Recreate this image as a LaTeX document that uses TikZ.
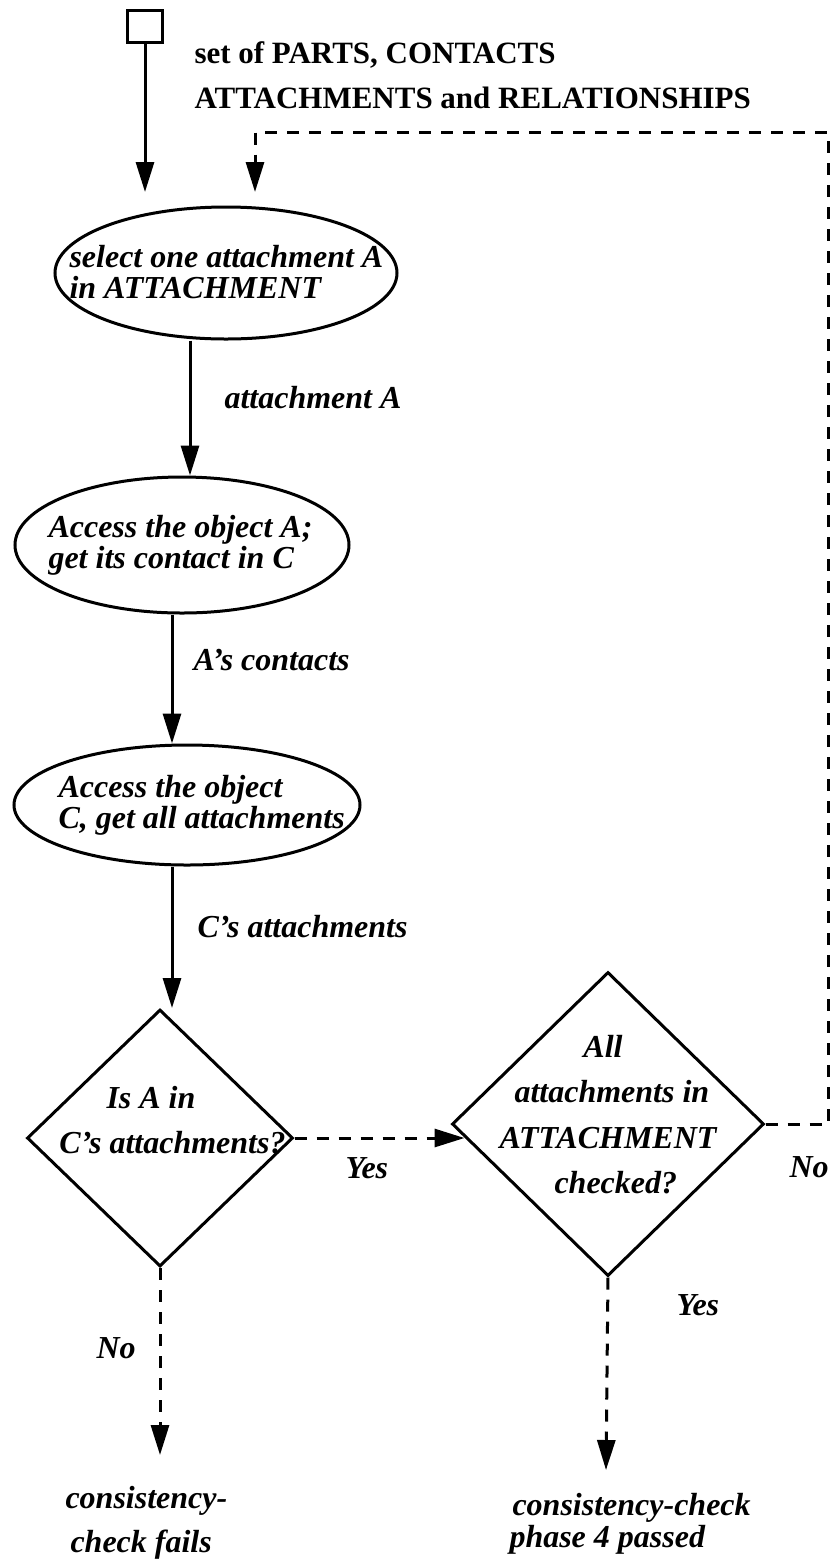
\documentclass[tikz,border=0pt]{standalone}
\usepackage{fontspec}
\setmainfont{Liberation Serif}
\usetikzlibrary{arrows.meta,shapes.geometric,calc}
\begin{document}
\begin{tikzpicture}[x=0.5pt,y=-0.5pt,
  line width=1.5pt,
  arr/.style={-{Triangle[length=15pt,width=9pt]}},
  dsh/.style={dash pattern=on 6pt off 5pt},
  oval/.style={draw,ellipse,inner sep=0pt},
  dia/.style={draw,diamond,inner sep=0pt},
  txt/.style={font=\fontsize{16}{18}\selectfont\bfseries\itshape,inner sep=0pt},
  ttl/.style={font=\fontsize{15.5}{18}\selectfont\bfseries,inner sep=0pt},
]
\useasboundingbox (0,0) rectangle (830,1560);

% start box and title
\node[draw,inner sep=0pt,minimum width=17.5pt,minimum height=16pt] (start) at (145,26) {};
\node[ttl,anchor=base west] (t1) at (193,63) {set of PARTS, CONTACTS};
\node[ttl,anchor=base west] (t2) at (193,108) {ATTACHMENTS and RELATIONSHIPS};

% process ovals
\node[oval,minimum width=171pt,minimum height=66pt] (e1) at (226,273) {};
\node[txt,anchor=base west] (e1a) at (68,267) {select one attachment A};
\node[txt,anchor=base west] (e1b) at (68,298) {in ATTACHMENT};

\node[oval,minimum width=167pt,minimum height=68pt] (e2) at (182,545) {};
\node[txt,anchor=base west] (e2a) at (47,537) {Access the object A;};
\node[txt,anchor=base west] (e2b) at (47,568) {get its contact in C};

\node[oval,minimum width=173pt,minimum height=60pt] (e3) at (187,805) {};
\node[txt,anchor=base west] (e3a) at (57,797) {Access the object};
\node[txt,anchor=base west] (e3b) at (57,828) {C, get all attachments};

% decisions
\node[dia,minimum width=133pt,minimum height=128.5pt] (d1) at (160,1138) {};
\node[txt,anchor=base west] (d1a) at (105,1108) {Is A in};
\node[txt,anchor=base west] (d1b) at (58,1153) {C's attachments?};

\node[dia,minimum width=156pt,minimum height=152pt] (d2) at (608,1124) {};
\node[txt,anchor=base] (d2a) at (603,1057) {All};
\node[txt,anchor=base west] (d2b) at (513,1102) {attachments in};
\node[txt,anchor=base west] (d2c) at (498,1148) {ATTACHMENT};
\node[txt,anchor=base west] (d2d) at (553,1193) {checked?};

% end texts
\node[txt,anchor=base west] (f1) at (64,1508) {consistency-};
\node[txt,anchor=base west] (f2) at (69,1552) {check fails};
\node[txt,anchor=base west] (p1) at (511,1515) {consistency-check};
\node[txt,anchor=base west] (p2) at (508,1547) {phase 4 passed};

% connector labels
\node[txt,anchor=base west] (l1) at (223,408) {attachment A};
\node[txt,anchor=base west] (l2) at (192,670) {A's contacts};
\node[txt,anchor=base west] (l3) at (196,937) {C's attachments};
\node[txt,anchor=base west] (y1) at (344,1178) {Yes};
\node[txt,anchor=base west] (n1) at (788,1177) {No};
\node[txt,anchor=base west] (y2) at (675,1315) {Yes};
\node[txt,anchor=base west] (n2) at (95,1358) {No};

% coordinates
\coordinate (c0) at (145,192);
\coordinate (r1) at (255,192);
\coordinate (rt) at (828,132);
\coordinate (lt) at (255,132);
\coordinate (x1) at (190,0);
\coordinate (x2) at (172,0);
\coordinate (b1) at (160,1455);
\coordinate (b2) at (606,1470);

% connectors
\draw[arr] (start.south) -- (c0);
\draw[arr,dsh] (d2.east) -- (d2.east -| rt) -- (rt) -- (lt) -- (r1);
\draw[arr] (e1.south -| x1) -- (e2.north -| x1);
\draw[arr] (e2.south -| x2) -- (e3.north -| x2);
\draw[arr] (e3.south -| x2) -- (d1.north -| x2);
\draw[arr,dsh] (d1.east) -- ($(d1.east -| d2.west)+(14,0)$);
\draw[arr,dsh] (d1.south) -- (b1);
\draw[arr,dsh] (d2.south) -- (b2);
\end{tikzpicture}
\end{document}
